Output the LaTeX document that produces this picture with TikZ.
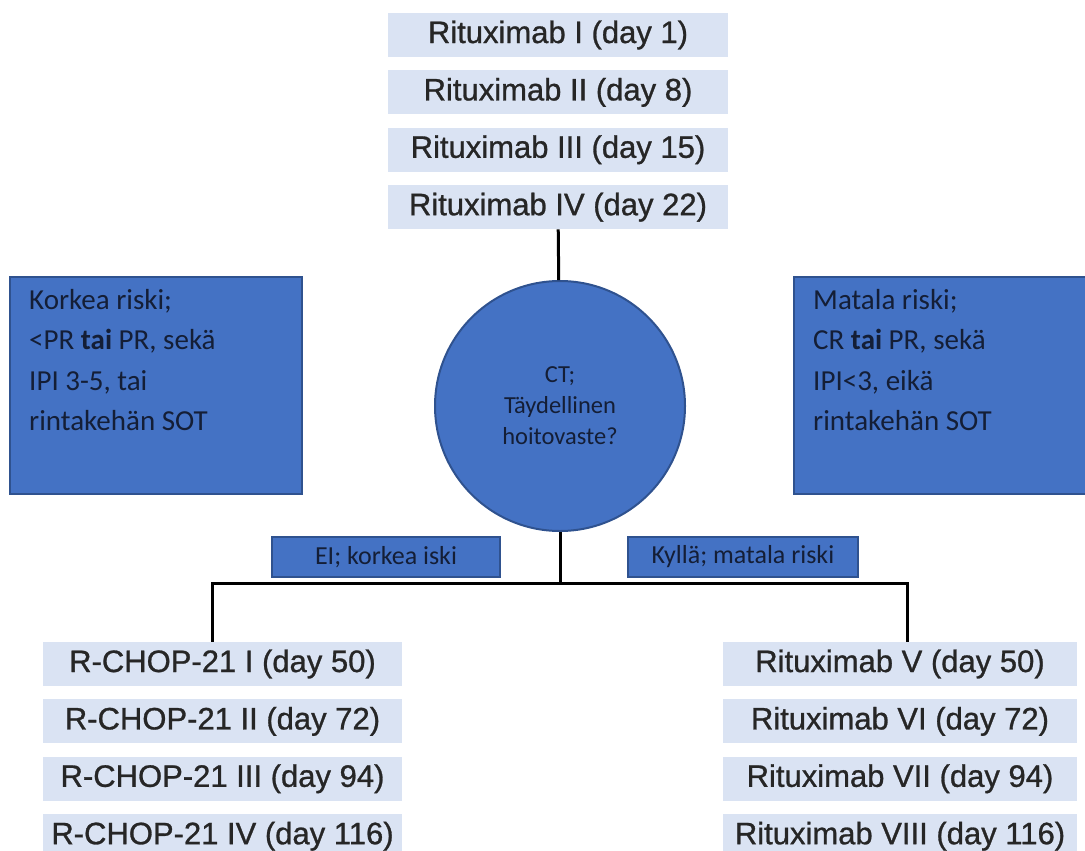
\documentclass[tikz,border=0pt]{standalone}
\usepackage{fontspec}
\setmainfont{Liberation Sans}
\newfontfamily\dosefont{Liberation Sans}[FakeBold=0.9]
\newfontfamily\calibri{Carlito}
\usetikzlibrary{positioning,calc}
\definecolor{dosefill}{HTML}{DAE3F3}
\definecolor{riskblue}{HTML}{4472C4}
\definecolor{riskline}{HTML}{2F528F}
\definecolor{risktext}{HTML}{141E36}
\tikzset{
	dose/.style={fill=dosefill, inner sep=0pt, minimum height=44pt,
		text=black!85, font=\dosefont\fontsize{31}{36}\selectfont},
	risk/.style={draw=riskline, line width=2pt, fill=riskblue,
		minimum width=292pt, minimum height=217pt, inner sep=0pt},
	risktxt/.style={anchor=north west, inner sep=0pt, align=left, text=risktext,
		font=\calibri\fontsize{29}{40.5}\selectfont},
	answer/.style={draw=riskline, line width=2pt, fill=riskblue, text=risktext,
		minimum height=40pt, inner sep=0pt, font=\calibri\fontsize{26}{30}\selectfont},
	wire/.style={line width=3pt}
}

\begin{document}
\begin{tikzpicture}[x=1pt,y=1pt,node distance=13pt and 13pt]
	\useasboundingbox (0,0) rectangle (1085,-851);
	% rituximab I-IV
	\node [dose, minimum width=340pt] (r1) at (558,-35) {Rituximab I (day 1)};
	\node [dose, minimum width=340pt, below=of r1] (r2) {Rituximab II (day 8)};
	\node [dose, minimum width=340pt, below=of r2] (r3) {Rituximab III (day 15)};
	\node [dose, minimum width=340pt, below=of r3] (r4) {Rituximab IV (day 22)};
	% CT
	\node [circle, draw=riskline, line width=2pt, fill=riskblue, minimum size=250pt,
		inner sep=0pt, align=center, text=risktext, font=\calibri\fontsize{24.5}{31}\selectfont]
		(ct) at (560,-406) {CT;\\Täydellinen\\hoitovaste?};
	\node [risk] (high) at (156,-385.5) {};
	\node [risktxt] (hightxt) at ([shift={(20pt,-13pt)}]high.north west)
		{Korkea riski;\\<PR \textbf{tai} PR, sekä\\IPI 3-5, tai\\rintakehän SOT};
	\node [risk] (low) at (940,-385.5) {};
	\node [risktxt] (lowtxt) at ([shift={(20pt,-13pt)}]low.north west)
		{Matala riski;\\CR \textbf{tai} PR, sekä\\IPI<3, eikä\\rintakehän SOT};
	\node [answer, minimum width=228pt] (no) at (386,-557) {EI; korkea iski};
	\node [answer, minimum width=230pt] (yes) at (743,-557) {Kyllä; matala riski};
	% branches
	\node [dose, minimum width=359pt] (c1) at (222.5,-664) {R-CHOP-21 I (day 50)};
	\node [dose, minimum width=359pt, below=of c1] (c2) {R-CHOP-21 II (day 72)};
	\node [dose, minimum width=359pt, below=of c2] (c3) {R-CHOP-21 III (day 94)};
	\node [dose, minimum width=359pt, below=of c3] (c4) {R-CHOP-21 IV (day 116)};
	\node [dose, minimum width=354pt] (v1) at (900,-664) {Rituximab V (day 50)};
	\node [dose, minimum width=354pt, below=of v1] (v2) {Rituximab VI (day 72)};
	\node [dose, minimum width=354pt, below=of v2] (v3) {Rituximab VII (day 94)};
	\node [dose, minimum width=354pt, below=of v3] (v4) {Rituximab VIII (day 116)};
	\coordinate (split) at (560,-583);
	\draw [wire] (r4) -- (ct);
	\draw [wire] (ct) -- (split);
	\draw [wire] ([xshift=-10pt]c1.north) |- (split) -| ([xshift=7pt]v1.north);
\end{tikzpicture}
\end{document}
